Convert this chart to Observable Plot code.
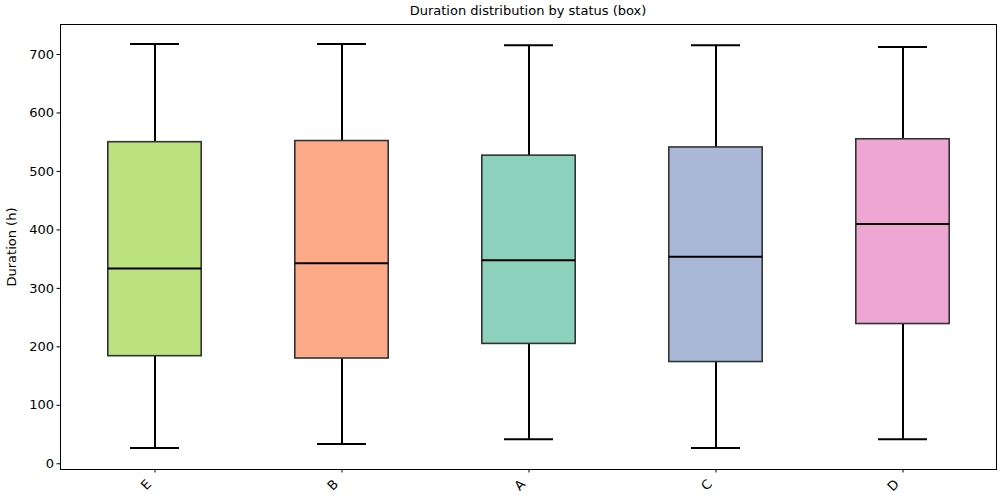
<!DOCTYPE html>
<html>
<head>
<meta charset="utf-8">
<script src="https://cdn.jsdelivr.net/npm/d3@7"></script>
<script src="https://cdn.jsdelivr.net/npm/@observablehq/plot@0.6"></script>
<style>
  html, body { margin: 0; padding: 0; background: #fff; }
  #wrap { width: 1000px; height: 500px; position: relative; font-family: "DejaVu Sans", sans-serif; }
  #title { height: 23px; line-height: 22px; padding-left: 60px; padding-right: 4px; text-align: center; font-size: 13px; color: #000; box-sizing: border-box; }
</style>
</head>
<body>
<div id="wrap">
  <div id="title">Duration distribution by status (box)</div>
  <div id="chart"></div>
</div>
<script>
const statuses    = ["E", "B", "A", "C", "D"];
const whiskerLow  = [27, 34, 42, 27, 42];
const q1          = [184, 180, 205, 174, 239];
const median      = [334, 343, 348, 354, 410];
const q3          = [550, 552, 527, 541, 555];
const whiskerHigh = [718, 718, 716, 716, 713];
const yTicks      = [0, 100, 200, 300, 400, 500, 600, 700];
const colorDomain = ["A", "B", "C", "D", "E"];
const colorRange  = ["#66c2a5", "#fc8d62", "#8da0cb", "#e78ac3", "#a6d854"];

const data = statuses.map((s, i) => ({
  status: s, lo: whiskerLow[i], q1: q1[i], med: median[i], q3: q3[i], hi: whiskerHigh[i]
}));

const chart = Plot.plot({
  width: 1000,
  height: 476,
  marginTop: 1,
  marginBottom: 30,
  marginLeft: 60,
  marginRight: 4,
  style: { fontFamily: "DejaVu Sans, sans-serif", fontSize: "13px", color: "#000", background: "#fff" },
  x: { type: "band", domain: statuses, padding: 0 },
  y: { domain: [-9.8, 751.3] },
  color: { domain: colorDomain, range: colorRange },
  marks: [
    Plot.frame({ stroke: "#000", strokeWidth: 1 }),
    Plot.ruleX(data, { x: "status", y1: "lo", y2: "q1", stroke: "#000", strokeWidth: 2 }),
    Plot.ruleX(data, { x: "status", y1: "q3", y2: "hi", stroke: "#000", strokeWidth: 2 }),
    Plot.tickY(data, { x: "status", y: "lo", stroke: "#000", strokeWidth: 2, insetLeft: 69, insetRight: 69 }),
    Plot.tickY(data, { x: "status", y: "hi", stroke: "#000", strokeWidth: 2, insetLeft: 69, insetRight: 69 }),
    Plot.barY(data, { x: "status", y1: "q1", y2: "q3", fill: "status", fillOpacity: 0.75, insetLeft: 46.8, insetRight: 46.8 }),
    Plot.barY(data, { x: "status", y1: "q1", y2: "q3", fill: "none", stroke: "#333", strokeWidth: 1.6, insetLeft: 46.8, insetRight: 46.8 }),
    Plot.tickY(data, { x: "status", y: "med", stroke: "#000", strokeWidth: 2, insetLeft: 46.8, insetRight: 46.8 }),
    Plot.axisY({ ticks: yTicks, tickSize: 3.5, tickPadding: 3, stroke: "#000", label: "Duration (h)", labelAnchor: "center", labelArrow: "none", labelOffset: 54 }),
    Plot.axisX({ tickSize: 3.5, tickFormat: () => "", label: null, stroke: "#000" }),
    Plot.axisX({ tickSize: 0, tickPadding: 7.5, tickRotate: -45, label: null, dx: -6, dy: 5 })
  ]
});
document.getElementById("chart").appendChild(chart);
</script>
</body>
</html>
